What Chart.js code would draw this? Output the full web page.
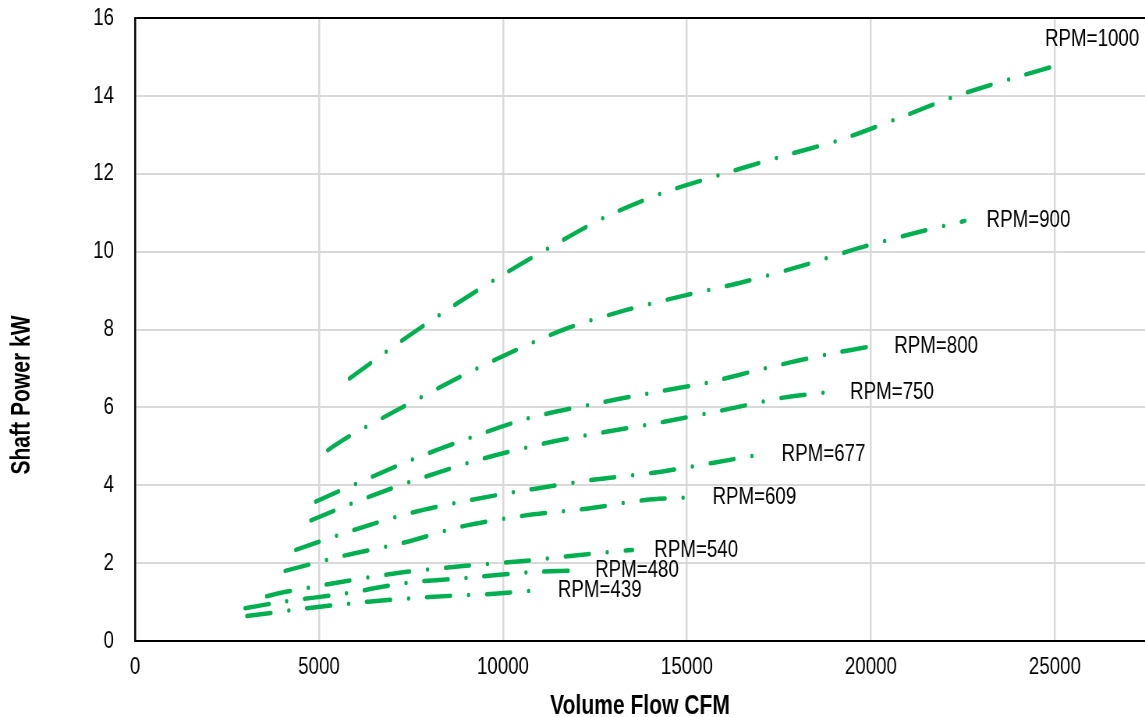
<!DOCTYPE html>
<html>
<head>
<meta charset="utf-8">
<script src="https://cdn.jsdelivr.net/npm/chart.js@4.4.1/dist/chart.umd.min.js"></script>
<style>
  html, body { margin: 0; padding: 0; background: #fff; overflow: hidden; }
  /* the sheet uses a narrow font; no narrow face is installed, so the whole
     chart is drawn wider and squeezed back to 1145px */
  #wrap { width: 1468px; height: 717px; transform: scaleX(0.78); transform-origin: 0 0; }
</style>
</head>
<body>
<div id="wrap"><canvas id="fanChart"></canvas></div>
<script>
const squeeze = 0.78;

// fan curves: volume flow (CFM) vs shaft power (kW), one pair per speed
const rpm_names = ["RPM=439", "RPM=480", "RPM=540", "RPM=609", "RPM=677", "RPM=750", "RPM=800", "RPM=900", "RPM=1000"];
const flow_ticks = [0, 5000, 10000, 15000, 20000, 25000];

const flow_439 = [3040, 4680, 6340, 8000, 9670, 10900];
const power_439 = [0.64, 0.84, 1.01, 1.13, 1.21, 1.30];

const flow_480 = [2990, 4030, 5710, 7350, 9010, 10660, 11910];
const power_480 = [0.84, 1.01, 1.22, 1.49, 1.62, 1.76, 1.81];

const flow_540 = [3580, 4030, 5680, 7330, 8990, 10640, 12290, 13520];
const power_540 = [1.15, 1.25, 1.53, 1.77, 1.93, 2.06, 2.23, 2.34];

const flow_609 = [4080, 5710, 7320, 8920, 10570, 12210, 13860, 15100];
const power_609 = [1.80, 2.20, 2.53, 2.95, 3.22, 3.39, 3.62, 3.69];

const flow_677 = [4370, 5940, 7540, 9160, 10800, 12440, 14080, 15730, 16980];
const power_677 = [2.34, 2.85, 3.30, 3.63, 3.90, 4.14, 4.32, 4.58, 4.79];

const flow_750 = [4780, 6320, 7890, 9480, 11100, 12730, 14380, 15990, 17620, 18840];
const power_750 = [3.10, 3.69, 4.22, 4.69, 5.07, 5.36, 5.63, 5.93, 6.25, 6.39];

const flow_800 = [4910, 6030, 7560, 9110, 10690, 12320, 13950, 15580, 17190, 18810, 20040];
const power_800 = [3.58, 4.05, 4.67, 5.22, 5.72, 6.06, 6.36, 6.64, 7.02, 7.36, 7.57];

const flow_900 = [5240, 5770, 7220, 8700, 10190, 11710, 13310, 14920, 16530, 18140, 19740, 21330, 22550];
const power_900 = [4.90, 5.23, 5.98, 6.72, 7.40, 8.02, 8.49, 8.87, 9.22, 9.64, 10.11, 10.51, 10.79];

const flow_1000 = [5830, 7170, 8540, 9950, 11390, 12850, 14380, 15970, 17550, 19160, 20730, 22260, 23850, 25050];
const power_1000 = [6.74, 7.66, 8.54, 9.38, 10.17, 10.92, 11.52, 11.99, 12.44, 12.87, 13.42, 13.98, 14.45, 14.78];

const all_flows = [flow_439, flow_480, flow_540, flow_609, flow_677, flow_750, flow_800, flow_900, flow_1000];
const all_powers = [power_439, power_480, power_540, power_609, power_677, power_750, power_800, power_900, power_1000];

const font_family = "'Liberation Sans', Arial, sans-serif";
const line_green = '#00B050';

// build the datasets
var datasets = [];
for (var i = 0; i < rpm_names.length; i++) {
    var pts = [];
    for (var k = 0; k < all_flows[i].length; k++) {
        pts.push({x: all_flows[i][k], y: all_powers[i][k]});
    }
    datasets.push({
        label: rpm_names[i],
        data: pts,
        borderColor: line_green,
        borderWidth: 4.5,
        borderDash: [31, 23, 0, 23],
        borderCapStyle: 'round',
        pointRadius: 0,
        tension: 0.3,
        fill: false
    });
}

// "RPM=..." text at the end of every curve
const endLabels = {
    id: 'endLabels',
    afterDatasetsDraw(chart) {
        const ctx = chart.ctx;
        ctx.save();
        ctx.font = '24px ' + font_family;
        ctx.fillStyle = '#000';
        ctx.textBaseline = 'middle';
        chart.data.datasets.forEach((ds, i) => {
            const pts = chart.getDatasetMeta(i).data;
            const last = pts[pts.length - 1];
            let x = last.x + 28, y = last.y;
            if (x + ctx.measureText(ds.label).width > chart.chartArea.right) {
                // no room on the right, put it above the end
                x = last.x - 15;
                y = last.y - 26;
            }
            ctx.fillText(ds.label, x, y);
        });
        ctx.restore();
    }
};

// y title drawn by hand so the rotated text is narrowed along its length too
const powerTitle = {
    id: 'powerTitle',
    afterDraw(chart) {
        const ctx = chart.ctx;
        ctx.save();
        ctx.translate(22 / squeeze, 395);
        ctx.rotate(-Math.PI / 2);
        ctx.scale(squeeze, 1 / squeeze);
        ctx.font = 'bold 27px ' + font_family;
        ctx.fillStyle = '#000';
        ctx.textAlign = 'center';
        ctx.textBaseline = 'middle';
        ctx.fillText('Shaft Power kW', 0, 0);
        ctx.restore();
    }
};

const config = {
    type: 'line',
    data: { datasets: datasets },
    options: {
        responsive: true,
        maintainAspectRatio: false,
        animation: false,
        layout: { autoPadding: false, padding: { top: 18, right: 0, bottom: 0, left: 0 } },
        plugins: {
            legend: { display: false },
            tooltip: { enabled: false }
        },
        scales: {
            x: {
                type: 'linear',
                min: 0,
                max: 27450,
                afterFit: (s) => { s.height = 76; s.paddingLeft = 0; s.paddingRight = 0; },
                afterBuildTicks: (s) => { s.ticks = flow_ticks.map(v => ({ value: v })); },
                ticks: {
                    padding: 12,
                    color: '#000',
                    font: { family: font_family, size: 24 },
                    maxRotation: 0,
                    autoSkip: false,
                    callback: (v) => String(v)
                },
                grid: { color: '#d9d9d9', lineWidth: 2.5, drawTicks: false },
                border: { color: '#000', width: 2 },
                title: {
                    display: true,
                    text: 'Volume Flow CFM',
                    color: '#000',
                    font: { family: font_family, size: 27, weight: 'bold', lineHeight: 0.8 },
                    padding: 0
                }
            },
            y: {
                min: 0,
                max: 16,
                afterFit: (s) => { s.width = 135 / squeeze; s.paddingTop = 0; s.paddingBottom = 0; },
                ticks: {
                    stepSize: 2,
                    padding: 27,
                    color: '#000',
                    font: { family: font_family, size: 24 }
                },
                grid: {
                    color: (c) => (c.tick && c.tick.value === 16) ? '#000' : '#d9d9d9',
                    lineWidth: 2,
                    drawTicks: false
                },
                border: { color: '#000', width: 2.5 }
            }
        }
    },
    plugins: [endLabels, powerTitle]
};

const fan_chart = new Chart(document.getElementById('fanChart'), config);
</script>
</body>
</html>
